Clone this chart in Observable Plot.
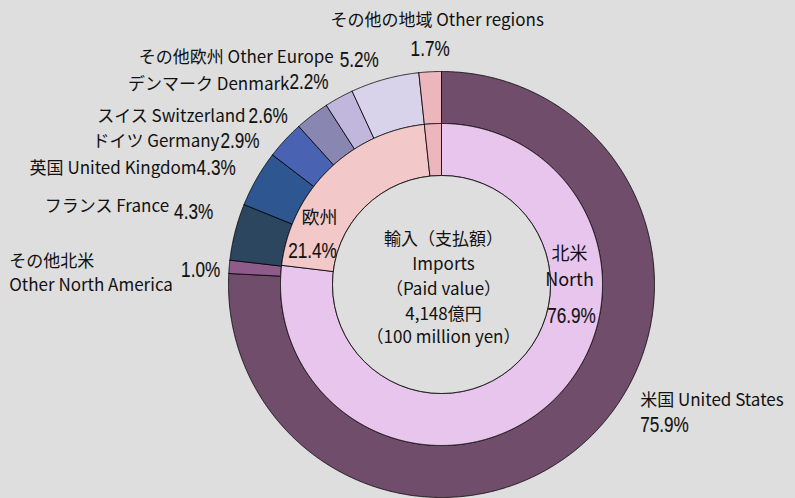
<!DOCTYPE html>
<html>
<head>
<meta charset="utf-8">
<script src="https://cdn.jsdelivr.net/npm/d3@7"></script>
<script src="https://cdn.jsdelivr.net/npm/@observablehq/plot@0.6"></script>
<style>
  html, body { margin: 0; padding: 0; background: #dedede; }
  #chart { width: 795px; height: 498px; }
</style>
</head>
<body>
<div id="chart"></div>
<script>
// ---------------- DATA ----------------
const outerKeys = ["United States", "Other North America", "France", "United Kingdom", "Germany", "Switzerland", "Denmark", "Other Europe", "Other regions"];
const outerLabels = ["米国 United States", "その他北米\nOther North America", "フランス France", "英国 United Kingdom", "ドイツ Germany", "スイス Switzerland", "デンマーク Denmark", "その他欧州 Other Europe", "その他の地域 Other regions"];
const outerValues = [75.9, 1.0, 4.3, 4.3, 2.9, 2.6, 2.2, 5.2, 1.7];

const innerKeys = ["North", "Europe", "Other regions (inner)"];
const innerLabels = ["北米\nNorth", "欧州", ""];
const innerValues = [76.9, 21.4, 1.7];

const centerLines = ["輸入（支払額）", "Imports", "（Paid value）", "4,148億円", "（100 million yen）"];

// ---------------- STYLE ----------------
const W = 795, H = 498;
const CX = 441, CY = 284;            // pie centre in pixels
const R = {hole: 109, inner: 161, outer: 213};
const BG = "#dedede";
const colorDomain = [...outerKeys, ...innerKeys];
const colorRange = ["#704d6b", "#8e5c8a", "#2d465f", "#2e5690", "#4a62b2", "#8a86b2", "#c1b6dc", "#d8d2ea", "#edb5bc",
                    "#e8c5ec", "#f2c8c8", "#edb5bc"];
const JP = "'Noto Sans CJK JP', 'Noto Sans', sans-serif";
const PCT = "Liberation Sans";
const PCT_SIZE = 22;
const PCT_SQUEEZE = 0.78;            // narrow the percentage glyphs horizontally

// label offsets (pixels, +dy downward) relative to the outer-edge point at each slice's mid angle
// [nameAnchor, nameDx, nameDy, pctAnchor, pctDx, pctDy]
const outerLabelLayout = [
  ["start", 52, -33, "start", 52, -7],
  ["start", -220, 24, "end", -9, 10],
  ["end", -66, -20, "start", -61, -13],
  ["end", -60, -5, "start", -60, -4],
  ["end", -65.5, 7, "start", -64.5, 8],
  ["end", -66.5, 6.5, "start", -63.5, 8],
  ["end", -49.5, -8, "start", -49.5, -9],
  ["end", -51, -16, "start", -45, -12],
  ["middle", 7, -46, "middle", 0, -16]
];
// inner labels: offsets from pie centre [nameDx, nameDy, pctDx, pctDy]
const innerLabelLayout = [
  [128, -20, 130, 31],
  [-122, -69, -129, -34],
  null
];
const centerLineDy = [-45, -20, 5, 30, 53];

// ---------------- GEOMETRY ----------------
function ring(keys, labels, values, r0, r1) {
  const total = d3.sum(values);
  let cum = 0;
  return keys.map((k, i) => {
    const a0 = cum / total * 2 * Math.PI;
    cum += values[i];
    const a1 = cum / total * 2 * Math.PI;
    return {key: k, label: labels[i], value: values[i], a0, a1, r0, r1, mid: (a0 + a1) / 2};
  });
}
const outer = ring(outerKeys, outerLabels, outerValues, R.inner, R.outer);
const inner = ring(innerKeys, innerLabels, innerValues, R.hole, R.inner);

function polygonPoints(slices, ringName) {
  const pts = [];
  for (const s of slices) {
    const id = ringName + ":" + s.key;
    const n = Math.max(2, Math.ceil((s.a1 - s.a0) / (Math.PI / 720)));
    const poly = [];
    for (let i = 0; i <= n; i++) {
      const a = s.a0 + (s.a1 - s.a0) * i / n;
      poly.push({id, key: s.key, x: s.r1 * Math.sin(a), y: s.r1 * Math.cos(a)});
    }
    for (let i = n; i >= 0; i--) {
      const a = s.a0 + (s.a1 - s.a0) * i / n;
      poly.push({id, key: s.key, x: s.r0 * Math.sin(a), y: s.r0 * Math.cos(a)});
    }
    poly.push({...poly[0]});
    pts.push(...poly);
  }
  return pts;
}
const slicePts = [...polygonPoints(outer, "outer"), ...polygonPoints(inner, "inner")];

// ---------------- LABELS ----------------
const nameItems = [], pctItems = [];
outer.forEach((s, i) => {
  const [na, ndx, ndy, pa, pdx, pdy] = outerLabelLayout[i];
  const ax = s.r1 * Math.sin(s.mid), ay = s.r1 * Math.cos(s.mid);
  nameItems.push({text: s.label, x: ax + ndx, y: ay - ndy, anchor: na});
  pctItems.push({text: s.value.toFixed(1) + "%", x: ax + pdx, y: ay - pdy, anchor: pa});
});
const innerNameItems = [], innerPctItems = [];
inner.forEach((s, i) => {
  const L = innerLabelLayout[i];
  if (!L) return;
  innerNameItems.push({text: s.label, x: L[0], y: -L[1]});
  innerPctItems.push({text: s.value.toFixed(1) + "%", x: L[2], y: -L[3]});
});
const centerItems = centerLines.map((t, i) => ({text: t, x: 2, y: -centerLineDy[i]}));

const anchors = ["start", "middle", "end"];
const nameMarks = anchors.map(a => Plot.text(nameItems.filter(d => d.anchor === a), {
  x: "x", y: "y", text: "text", textAnchor: a, lineAnchor: "bottom", lineHeight: 1.4,
  fontSize: 17, fontFamily: JP, fill: "#111"
}));
const pctMarks = anchors.map(a => Plot.text(pctItems.filter(d => d.anchor === a), {
  x: "x", y: "y", text: "text", textAnchor: a, lineAnchor: "bottom",
  fontSize: PCT_SIZE, fontFamily: PCT, fill: "#111", stroke: "#111", strokeWidth: 0.15
}));

const chart = Plot.plot({
  width: W, height: H,
  margin: 0,
  style: {background: BG, overflow: "visible"},
  x: {domain: [-CX, W - CX], range: [0, W], axis: null},
  y: {domain: [-(H - CY), CY], range: [H, 0], axis: null},
  color: {domain: colorDomain, range: colorRange},
  marks: [
    Plot.line(slicePts, {x: "x", y: "y", z: "id", fill: "key", stroke: "#000", strokeWidth: 0.8, curve: "linear"}),
    Plot.dot([0], {x: () => 0, y: () => 0, r: R.hole, fill: BG, stroke: "#000", strokeWidth: 0.8}),
    ...nameMarks,
    ...pctMarks,
    Plot.text(innerNameItems, {x: "x", y: "y", text: "text", lineHeight: 1.45, fontSize: 18, fontFamily: JP, fill: "#111"}),
    Plot.text(innerPctItems, {x: "x", y: "y", text: "text", fontSize: PCT_SIZE, fontFamily: PCT, fill: "#111", stroke: "#111", strokeWidth: 0.15}),
    Plot.text(centerItems, {x: "x", y: "y", text: "text", fontSize: 17, fontFamily: JP, fill: "#111"})
  ]
});
document.getElementById("chart").appendChild(chart);

// condense the percentage labels (narrow sans look)
d3.select(chart).selectAll("g[font-family='" + PCT + "'] text").each(function() {
  const len = this.getComputedTextLength();
  if (len > 0) {
    this.setAttribute("textLength", (len * PCT_SQUEEZE).toFixed(2));
    this.setAttribute("lengthAdjust", "spacingAndGlyphs");
  }
});
</script>
</body>
</html>
